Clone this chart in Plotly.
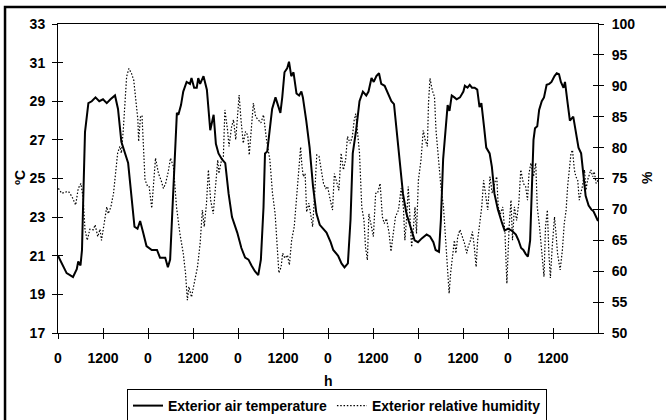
import plotly.graph_objects as go

# Exterior air temperature (°C) vs hour
temp_h = [0, 1.4, 2.3, 3.2, 4.0, 5.0, 5.4, 6.0, 6.4, 6.7, 7.2, 8.1, 9, 10, 11, 12, 13, 14, 15.2, 16, 16.9, 18.7,
          19.6, 20.4, 21.2, 21.9, 22.7, 23.6, 25.0, 26.4, 27.2, 28.6, 29.3, 29.9, 30.8, 31.7, 32.1, 32.8, 33.4,
          34.3, 35.2, 35.6, 36.3, 37.0, 37.4, 37.9, 38.8, 39.7, 40.6, 41.5, 42.1, 42.8, 43.7, 44.6, 45.5, 46.4,
          47.8, 48.9, 49.9, 50.8, 51.6, 52.5, 53.4, 54.1, 54.8, 55.2, 55.8, 56.5, 57.1, 58.0, 58.7, 59.3, 59.8,
          60.4, 61.1, 61.6, 62.2, 62.8, 63.6, 64.3, 64.9, 65.3, 66.2, 67.1, 68.0, 68.9, 69.8, 70.7, 71.6, 72.7,
          73.4, 74.7, 75.6, 76.4, 77.3, 78.0, 78.6, 79.5, 80.4, 81.3, 82.2, 82.8, 83.6, 84.2, 84.9, 85.6, 86.2,
          87.1, 87.8, 88.9, 89.6, 90.2, 91.1, 92.0, 92.9, 94.0, 95.1, 96.0, 97.0, 98.3, 99.2, 100.1, 100.7,
          101.6, 102.1, 102.7, 103.4, 103.9, 104.4, 105.0, 105.7, 106.3, 107.2, 108.1, 108.5, 109.2, 109.8,
          110.4, 111.1, 111.8, 112.4, 112.9, 113.6, 114.2, 115.1, 115.7, 116.4, 117.3, 118.4, 119.1, 120.0,
          121.0, 122.1, 122.8, 123.5, 124.1, 124.7, 125.3, 125.9, 126.3, 126.8, 127.2, 127.8, 128.3, 129.0,
          129.6, 130.3, 131.0, 131.6, 132.4, 133.0, 133.6, 134.1, 134.8, 135.2, 135.9, 136.5, 137.4, 138.0,
          138.8, 139.5, 140.1, 140.7, 141.5, 142.2, 142.8, 143.7, 144.0]
temp_c = [21.0, 20.4, 20.1, 20.0, 19.9, 20.3, 20.7, 20.5, 21.3, 23.7, 27.4, 28.9, 29.0, 29.2, 29.0, 29.1, 28.9,
          29.1, 29.3, 28.6, 26.9, 25.8, 24.2, 22.5, 22.4, 22.8, 22.2, 21.5, 21.3, 21.3, 20.9, 20.9, 20.4, 20.8,
          24.6, 28.4, 28.3, 28.8, 29.5, 30.0, 29.9, 30.2, 29.7, 29.7, 30.2, 29.9, 30.3, 29.6, 27.5, 28.3, 26.8,
          26.3, 26.0, 25.8, 24.2, 23.0, 22.2, 21.4, 20.9, 20.8, 20.5, 20.2, 20.0, 20.8, 23.5, 26.3, 26.4, 27.7,
          28.6, 29.2, 28.7, 28.4, 29.2, 30.5, 30.7, 31.05, 30.3, 30.5, 29.4, 29.3, 29.5, 29.2, 28.0, 26.6, 24.6,
          23.2, 22.6, 22.4, 22.2, 21.7, 21.3, 21.0, 20.6, 20.4, 20.6, 22.85, 26.3, 27.5, 29.0, 29.5, 29.3, 29.5,
          30.2, 30.0, 30.3, 30.45, 29.9, 29.8, 29.5, 29.0, 28.85, 27.7, 26.0, 24.2, 23.2, 22.5, 21.8, 21.7, 21.9,
          22.1, 22.0, 21.7, 21.3, 21.2, 22.85, 26.0, 27.5, 28.8, 28.5, 29.3, 29.2, 29.1, 29.2, 29.5, 29.8, 29.7,
          29.85, 29.7, 29.7, 29.6, 28.7, 28.9, 27.7, 26.6, 26.3, 25.6, 24.2, 23.4, 22.7, 22.3, 22.4, 22.3, 22.1,
          21.8, 21.4, 21.3, 21.1, 20.95, 21.8, 24.6, 27.0, 27.6, 27.7, 28.55, 29.0, 29.2, 29.85, 29.9, 30.0,
          30.3, 30.45, 30.4, 30.0, 29.7, 30.0, 28.9, 28.0, 28.2, 27.4, 26.6, 26.3, 25.3, 24.1, 23.6, 23.4, 23.3,
          22.85, 22.8]

# Exterior relative humidity (%) vs hour
rh_h = [0.1, 1.0, 1.9, 2.8, 3.7, 4.7, 5.4, 6.1, 6.7, 7.2, 7.8, 8.5, 9.4, 9.9, 10.6, 11.2, 11.6, 12.4, 13.0, 13.4,
        14.1, 14.8, 15.2, 15.9, 16.5, 16.9, 17.4, 17.8, 18.3, 18.9, 19.6, 20.2, 20.7, 21.3, 21.5, 22.0, 22.4,
        22.8, 23.2, 23.9, 24.3, 25.0, 25.4, 26.0, 26.8, 27.5, 28.1, 28.7, 29.4, 30.0, 30.8, 31.6, 32.5, 33.4,
        34.0, 34.5, 34.9, 35.6, 36.5, 37.2, 37.9, 38.5, 39.0, 39.6, 40.1, 40.7, 41.4, 42.0, 42.6, 42.9, 43.6,
        44.1, 44.5, 45.2, 45.6, 46.3, 46.8, 47.4, 48.3, 48.8, 49.4, 50.0, 50.6, 51.0, 51.6, 52.1, 52.7, 53.4,
        54.1, 54.8, 55.2, 55.6, 56.5, 57.2, 57.9, 58.5, 58.9, 59.5, 59.9, 60.5, 61.2, 61.7, 62.3, 63.0, 63.6,
        64.3, 64.7, 65.0, 65.4, 65.9, 66.3, 66.9, 67.5, 67.9, 68.5, 69.0, 69.6, 70.1, 70.8, 71.4, 71.9, 72.5,
        73.2, 73.7, 74.3, 74.9, 75.5, 76.1, 76.7, 77.2, 77.9, 78.5, 79.0, 79.4, 79.9, 80.4, 81.0, 81.6, 82.0,
        82.5, 82.9, 83.5, 84.1, 84.7, 85.2, 85.9, 86.5, 87.0, 87.6, 88.3, 88.8, 89.4, 90.0, 90.8, 91.5, 92.1,
        92.5, 93.0, 93.4, 93.9, 94.3, 94.8, 95.2, 95.6, 96.1, 96.8, 97.4, 97.9, 98.5, 98.8, 99.2, 99.8, 100.4,
        100.8, 101.4, 102.1, 102.8, 103.4, 103.8, 104.3, 104.7, 105.2, 105.7, 106.1, 106.6, 107.2, 107.8,
        108.4, 109.0, 109.4, 110.0, 110.5, 111.0, 111.5, 111.9, 112.5, 113.0, 113.5, 114.0, 114.6, 115.2,
        115.8, 116.4, 117.0, 117.4, 118.0, 118.6, 119.2, 119.7, 120.3, 120.8, 121.2, 121.7, 122.3, 122.9,
        123.4, 124.1, 124.7, 125.2, 125.6, 126.1, 126.8, 127.4, 127.8, 128.4, 129.0, 129.6, 130.0, 130.5,
        130.9, 131.3, 131.8, 132.4, 132.8, 133.2, 133.9, 134.5, 135.0, 135.5, 135.9, 136.4, 136.8, 137.2,
        137.7, 138.1, 138.6, 139.0, 139.5, 139.9, 140.4, 140.8, 141.2, 141.7, 142.1, 142.6, 143.0, 143.5, 144.0]
rh_pct = [73.4, 72.6, 72.8, 72.9, 72.1, 70.7, 73.4, 74.2, 71.9, 66.7, 65.0, 66.8, 66.7, 67.5, 65.6, 66.8, 65.0,
          67.7, 70.4, 69.3, 70.4, 72.6, 75.3, 79.1, 80.2, 79.1, 82.8, 86.6, 91.5, 92.8, 92.0, 90.9, 87.7, 84.5,
          81.0, 85.0, 85.2, 81.0, 74.8, 73.7, 73.7, 70.2, 73.7, 78.3, 75.8, 74.7, 73.4, 74.2, 76.1, 78.3, 76.9,
          70.4, 66.1, 62.9, 59.7, 55.3, 57.5, 55.8, 58.6, 60.7, 64.5, 69.9, 67.2, 71.0, 76.4, 71.5, 69.3, 74.2,
          78.0, 75.8, 78.0, 78.6, 86.1, 82.9, 80.2, 83.4, 84.5, 81.3, 88.5, 84.5, 80.7, 82.6, 82.0, 78.8, 83.4,
          87.2, 85.0, 84.5, 84.0, 85.3, 83.4, 81.3, 78.0, 72.6, 69.3, 63.4, 59.7, 60.7, 62.9, 62.1, 62.6, 61.0,
          65.0, 67.2, 71.5, 76.9, 80.1, 77.4, 75.3, 75.8, 69.6, 71.0, 68.8, 67.2, 73.1, 78.8, 78.6, 76.9, 74.2,
          73.4, 73.7, 71.8, 69.9, 75.8, 74.2, 73.1, 79.1, 76.4, 78.0, 81.8, 80.7, 81.8, 84.5, 85.5, 82.3, 79.1,
          70.4, 68.2, 63.9, 61.8, 69.3, 67.2, 65.6, 72.6, 72.6, 74.2, 68.8, 67.7, 68.5, 66.1, 63.2, 66.1, 68.8,
          69.9, 73.4, 70.4, 65.0, 68.8, 73.7, 68.2, 63.9, 67.2, 70.4, 66.1, 74.7, 78.0, 82.8, 81.3, 80.2, 87.2,
          91.2, 89.3, 88.2, 82.8, 78.0, 73.7, 70.4, 64.0, 59.7, 56.4, 59.7, 62.9, 65.0, 62.9, 65.6, 66.7, 65.6,
          64.5, 62.9, 64.0, 65.0, 66.4, 64.0, 60.7, 65.0, 68.2, 70.4, 74.7, 72.6, 69.9, 75.3, 72.6, 74.2, 75.3,
          70.4, 69.3, 70.4, 66.1, 58.0, 67.2, 71.5, 65.0, 70.4, 68.2, 71.2, 76.4, 74.2, 73.7, 71.5, 75.8, 77.5,
          75.3, 77.5, 70.4, 67.2, 62.9, 59.1, 67.2, 69.9, 62.9, 58.9, 64.0, 68.8, 66.1, 62.9, 60.2, 63.4, 67.7,
          69.9, 73.7, 77.5, 79.1, 79.6, 76.4, 75.3, 74.7, 71.5, 72.6, 73.9, 76.4, 73.1, 74.7, 75.8, 76.4, 75.3,
          76.1, 74.2, 74.7]

x_tick_vals = [0, 12, 24, 36, 48, 60, 72, 84, 96, 108, 120, 132]
x_tick_text = ["0", "1200", "0", "1200", "0", "1200", "0", "1200", "0", "1200", "0", "1200"]

FONT = "Arial, Liberation Sans, sans-serif"
bold14 = dict(family=FONT, size=14, color="black", weight="bold")

fig = go.Figure()
fig.add_trace(go.Scatter(x=temp_h, y=temp_c, mode="lines", name="Exterior air temperature",
                         line=dict(color="black", width=2), yaxis="y"))
fig.add_trace(go.Scatter(x=rh_h, y=rh_pct, mode="lines", name="Exterior relative humidity",
                         line=dict(color="black", width=1.2, dash="1.5px,1.8px"), yaxis="y2"))
# empty helper traces so the inner-tick overlay axes are drawn
fig.add_trace(go.Scatter(x=[], y=[], xaxis="x2", yaxis="y3", showlegend=False, hoverinfo="skip"))
fig.add_trace(go.Scatter(x=[], y=[], xaxis="x2", yaxis="y4", showlegend=False, hoverinfo="skip"))

common_ax = dict(showgrid=False, zeroline=False, linecolor="black", linewidth=1, tickcolor="black",
                 tickwidth=1, ticklen=5, automargin=False)

fig.update_layout(
    width=666, height=420,
    margin=dict(l=58, r=68, t=24, b=87),
    paper_bgcolor="white", plot_bgcolor="white",
    font=dict(family=FONT, color="black"),
    xaxis=dict(range=[0, 144], tickmode="array", tickvals=x_tick_vals, ticktext=x_tick_text,
               ticks="outside", showline=True, mirror=True, tickfont=bold14,
               ticklabelstandoff=7, **common_ax),
    xaxis2=dict(range=[0, 144], overlaying="x", anchor="y", side="bottom", tickmode="array",
                tickvals=x_tick_vals + [144], ticks="inside", showticklabels=False, showline=False,
                **common_ax),
    yaxis=dict(range=[17, 33], dtick=2, tick0=17, ticks="outside", showline=True, tickfont=bold14,
               ticklabelstandoff=4, **common_ax),
    yaxis2=dict(range=[50, 100], dtick=5, tick0=50, ticks="outside", showline=True, overlaying="y",
                side="right", tickfont=bold14, ticklabelstandoff=5, **common_ax),
    yaxis3=dict(range=[17, 33], dtick=2, tick0=17, ticks="inside", overlaying="y", side="left",
                anchor="x2", showticklabels=False, showline=False, **common_ax),
    yaxis4=dict(range=[50, 100], dtick=5, tick0=50, ticks="inside", overlaying="y", side="right",
                anchor="x2", showticklabels=False, showline=False, **common_ax),
    legend=dict(orientation="h", xref="container", yref="container", x=0.506, xanchor="center",
                y=1 - 389 / 420, yanchor="top",
                bordercolor="black", borderwidth=1, bgcolor="white",
                font=bold14, itemwidth=30, tracegroupgap=0),
    showlegend=True,
)

fig.add_annotation(text="h", xref="paper", yref="paper", x=0.5, y=-0.155, showarrow=False,
                   font=bold14, xanchor="center", yanchor="middle")
fig.add_annotation(text="ºC", xref="paper", yref="paper", x=-0.070, y=0.502, showarrow=False,
                   textangle=-90, font=bold14, xanchor="center", yanchor="middle")
fig.add_annotation(text="%", xref="paper", yref="paper", x=1.091, y=0.502, showarrow=False,
                   textangle=-90, font=bold14, xanchor="center", yanchor="middle")

# chart-area frame (only its left and top edges fall inside the picture)
fig.add_shape(type="rect", xref="paper", yref="paper", x0=-0.0981, x1=1.14, y0=-0.30, y1=1.055,
              line=dict(color="black", width=2.5), fillcolor="rgba(0,0,0,0)", layer="below")

fig.write_html("out.html", config={"displayModeBar": False},
               post_script="document.body.style.margin='0px';")
